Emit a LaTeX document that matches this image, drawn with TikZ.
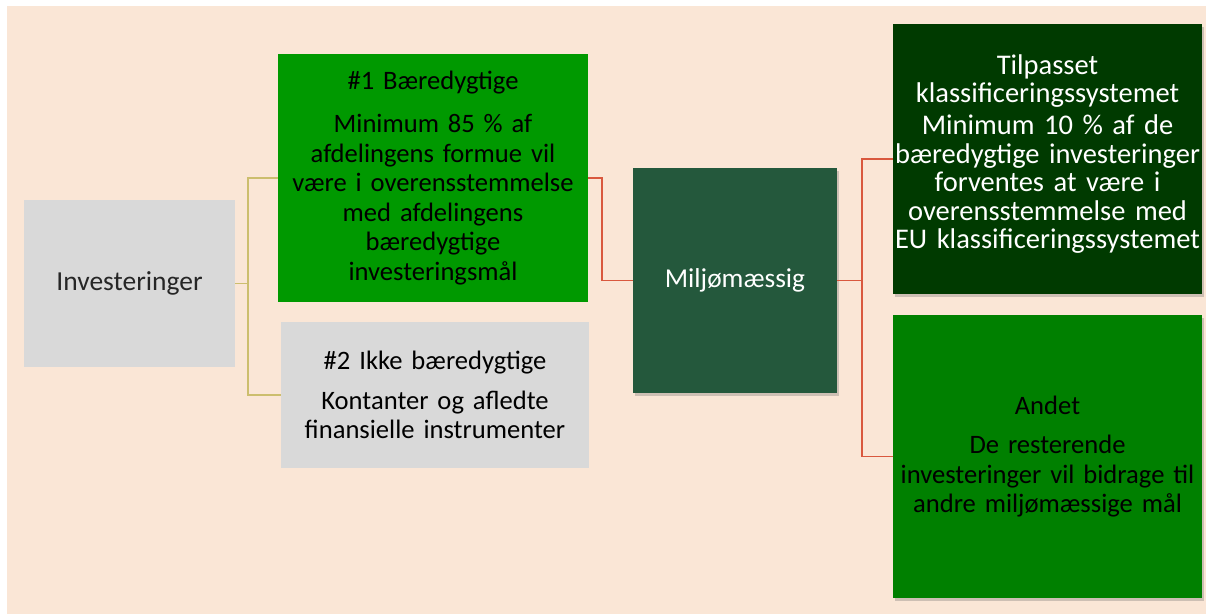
\documentclass[tikz,border=0pt]{standalone}
\usepackage{fontspec}
\setmainfont{Carlito}
\usetikzlibrary{shadows}
\definecolor{bgc}{RGB}{250,230,214}
\definecolor{grayc}{RGB}{217,217,217}
\definecolor{greenA}{RGB}{0,153,0}
\definecolor{greenM}{RGB}{36,88,60}
\definecolor{greenD}{RGB}{0,58,0}
\definecolor{greenB}{RGB}{0,128,0}
\definecolor{ylc}{RGB}{204,190,110}
\definecolor{rdc}{RGB}{217,88,62}
\tikzset{
  bx/.style={rectangle, inner sep=0pt, align=center,
    font=\fontsize{26.6}{29.5}\selectfont},
  shd/.style={drop shadow={shadow xshift=2pt, shadow yshift=-3pt, opacity=0.3, fill=black!60}},
  yl/.style={draw=ylc, line width=1.3pt},
  rd/.style={draw=rdc, line width=1.3pt},
}
\begin{document}
\begin{tikzpicture}[x=1pt, y=-1pt]
\useasboundingbox (0,0) rectangle (1206,614);
\fill[bgc] (7,6) rectangle (1206,614);

\node[bx, fill=grayc, text=black!85, minimum width=211pt, minimum height=167pt, text width=200pt,
  font=\fontsize{27.5}{30}\selectfont]
  (inv) at (129.5,283.5) {Investeringer};

\node[bx, fill=greenA, text=black, minimum width=310pt, minimum height=248pt, text width=306pt]
  (b1) at (433,178) {\#1 Bæredygtige\\[13.5pt]
  Minimum 85 \% af\\ afdelingens formue vil\\ være i overensstemmelse\\ med afdelingens\\ bæredygtige\\ investeringsmål};

\node[bx, fill=grayc, text=black, minimum width=308pt, minimum height=146pt, text width=304pt]
  (b2) at (435,395) {\#2 Ikke bæredygtige\\[10pt]
  Kontanter og afledte\\ finansielle instrumenter};

\node[bx, shd, fill=greenM, text=white, minimum width=204pt, minimum height=225pt, text width=200pt,
  font=\fontsize{27.3}{30}\selectfont]
  (mil) at (735,280.5) {Miljømæssig};

\node[bx, shd, fill=greenD, minimum width=309pt, minimum height=270pt]
  (tilp) at (1047.5,159) {};
\node[bx, text=white, text width=309pt, font=\fontsize{28.5}{28.5}\selectfont]
  (tilptxt) at ([yshift=5pt]tilp.center) {Tilpasset\\ klassificeringssystemet\\[3.5pt]
  Minimum 10 \% af de\\ bæredygtige investeringer\\ forventes at være i\\ overensstemmelse med\\ EU klassificeringssystemet};

\node[bx, shd, fill=greenB, text=black, minimum width=309pt, minimum height=283pt, text width=305pt]
  (andet) at (1047.5,456.5) {Andet\\[10pt]
  De resterende\\ investeringer vil bidrage til\\ andre miljømæssige mål};

\coordinate (yj) at (248,283.5);
\draw[yl] (inv.east) -- (yj) |- (b1.west);
\draw[yl] (yj) |- (b2.west);

\coordinate (rj) at (602,178);
\draw[rd] (b1.east) -- (rj) |- (mil.west);

\coordinate (mj) at (862,280.5);
\draw[rd] (mil.east) -- (mj) |- (tilp.west);
\draw[rd] (mj) |- (andet.west);
\end{tikzpicture}
\end{document}
